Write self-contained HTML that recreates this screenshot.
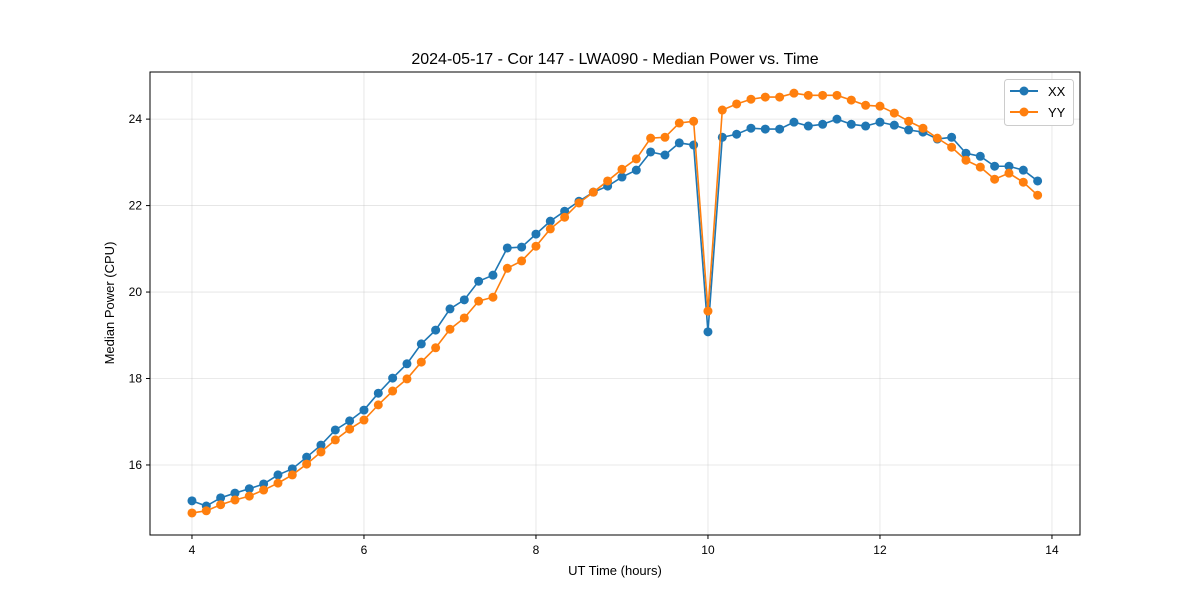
<!DOCTYPE html>
<html><head><meta charset="utf-8"><style>
body{margin:0;background:#fff;}
svg{display:block;font-family:"Liberation Sans","DejaVu Sans",sans-serif;}
</style></head><body>
<svg id="chart" width="1200" height="600" viewBox="0 0 1200 600" xmlns="http://www.w3.org/2000/svg">
<rect width="1200" height="600" fill="#fff"/>
<text x="615" y="64" text-anchor="middle" font-size="16" fill="#000">2024-05-17 - Cor 147 - LWA090 - Median Power vs. Time</text>
<g id="grid"></g>
<g id="axes"></g>
<g id="series"></g>
<rect x="150" y="72" width="930" height="463" fill="none" stroke="#000" stroke-width="1"/>
<text x="615" y="575" text-anchor="middle" font-size="13">UT Time (hours)</text>
<text x="114" y="303" text-anchor="middle" font-size="13" transform="rotate(-90 114 303)">Median Power (CPU)</text>
<g>
<rect x="1004.5" y="79.5" width="69" height="46" rx="3" fill="#fff" stroke="#ccc"/>
<line x1="1010" y1="91" x2="1038" y2="91" stroke="#1f77b4" stroke-width="2"/>
<circle cx="1024" cy="91" r="4.5" fill="#1f77b4"/>
<text x="1048" y="96" font-size="13">XX</text>
<line x1="1010" y1="112" x2="1038" y2="112" stroke="#ff7f0e" stroke-width="2"/>
<circle cx="1024" cy="112" r="4.5" fill="#ff7f0e"/>
<text x="1048" y="117" font-size="13">YY</text>
</g>
</svg>
<script>
const startHour = 4;
const stepHours = 1/6;
const xxValues = [15.17,15.05,15.24,15.35,15.45,15.56,15.77,15.91,16.18,16.46,16.81,17.02,17.27,17.66,18.01,18.34,18.80,19.12,19.61,19.82,20.25,20.39,21.02,21.04,21.34,21.64,21.87,22.10,22.31,22.45,22.66,22.82,23.24,23.17,23.45,23.40,19.08,23.58,23.65,23.79,23.77,23.77,23.93,23.84,23.88,24.00,23.88,23.84,23.93,23.86,23.75,23.70,23.54,23.58,23.21,23.14,22.91,22.91,22.82,22.57];
const yyValues = [14.89,14.94,15.08,15.19,15.28,15.42,15.58,15.77,16.02,16.30,16.58,16.83,17.04,17.39,17.71,17.99,18.38,18.71,19.14,19.40,19.79,19.88,20.55,20.72,21.06,21.46,21.73,22.06,22.31,22.57,22.84,23.08,23.56,23.58,23.91,23.95,19.56,24.21,24.35,24.46,24.51,24.51,24.60,24.55,24.55,24.55,24.44,24.32,24.30,24.14,23.95,23.79,23.56,23.35,23.05,22.89,22.61,22.75,22.54,22.24];
const xTicks = [4,6,8,10,12,14];
const yTicks = [16,18,20,22,24];

const NS = "http://www.w3.org/2000/svg";
const X0=150, X1=1080, Y0=535, Y1=72;
const xMin=3.512, xMax=14.326, yMin=14.38, yMax=25.09;
function xs(v){return X0+(v-xMin)/(xMax-xMin)*(X1-X0);}
function ys(v){return Y0-(v-yMin)/(yMax-yMin)*(Y0-Y1);}
function mk(tag, attrs, parent){const e=document.createElementNS(NS,tag);for(const k in attrs)e.setAttribute(k,attrs[k]);parent.appendChild(e);return e;}
const grid=document.getElementById('grid'), axes=document.getElementById('axes'), series=document.getElementById('series');

xTicks.forEach(t=>{
  const x=xs(t);
  const g=mk('line',{x1:x,x2:x,y1:Y1,y2:Y0,stroke:'#b0b0b0','stroke-opacity':0.35,'stroke-width':0.8},grid);
  
  
  const tk=mk('line',{x1:x,x2:x,y1:Y0,y2:Y0+4,stroke:'#000'},axes);
  
  
  const tx=mk('text',{x:x,y:Y0+19,'text-anchor':'middle','font-size':12},axes);
  tx.textContent=t;
  
  
});
yTicks.forEach(t=>{
  const y=ys(t);
  const g=mk('line',{x1:X0,x2:X1,y1:y,y2:y,stroke:'#b0b0b0','stroke-opacity':0.35,'stroke-width':0.8},grid);
  
  
  const tk=mk('line',{x1:X0-4,x2:X0,y1:y,y2:y,stroke:'#000'},axes);
  
  
  const tx=mk('text',{x:X0-8,y:y+4,'text-anchor':'end','font-size':12},axes);
  tx.textContent=t;
  
  
});

function drawSeries(vals,color,name){
  const pts=vals.map((v,i)=>[xs(startHour+i*stepHours),ys(v)]);
  const pl=mk('polyline',{points:pts.map(p=>p.join(',')).join(' '),fill:'none',stroke:color,'stroke-width':1.6},series);
  
  
  pts.forEach(p=>{
    const c=mk('circle',{cx:p[0],cy:p[1],r:4.5,fill:color},series);
    
    
  });
}
drawSeries(xxValues,'#1f77b4','xx');
drawSeries(yyValues,'#ff7f0e','yy');
</script>
</body></html>
